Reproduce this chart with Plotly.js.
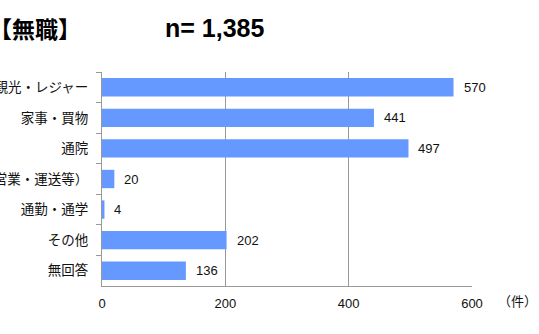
<!DOCTYPE html>
<html>
<head>
<meta charset="utf-8">
<script src="https://cdn.plot.ly/plotly-3.0.1.min.js"></script>
<style>html,body{margin:0;padding:0;background:#fff;}#chart{width:539px;height:334px;}</style>
</head>
<body>
<div id="chart"></div>
<script>
const categories = ["観光・レジャー", "家事・買物", "通院", "業務（営業・運送等）", "通勤・通学", "その他", "無回答"];
const counts = [570, 441, 497, 20, 4, 202, 136];
const xTicks = [0, 200, 400, 600];
const titleText = "【無職】";
const nText = "n= 1,385";
const unitText = "（件）";

const font = "'Noto Sans CJK JP', 'Noto Sans', sans-serif";
const numFont = "'Liberation Sans', Arial, 'Noto Sans CJK JP', sans-serif";

const trace = {
  type: "bar",
  orientation: "h",
  y: categories,
  x: counts,
  marker: {color: "#6699FF", line: {width: 0}},
  width: 0.6,
  hoverinfo: "none"
};

const annotations = categories.map((c, i) => ({
  x: counts[i], y: c, xref: "x", yref: "y",
  text: String(counts[i]), showarrow: false,
  xanchor: "left", xshift: 8,
  bgcolor: "#ffffff", borderpad: 1,
  font: {family: numFont, size: 13, color: "#111"}
}));

annotations.push({
  xref: "paper", yref: "paper", x: -0.31, y: 1.205,
  xanchor: "left", yanchor: "middle", showarrow: false,
  text: "<b>" + titleText + "</b>",
  font: {family: font, size: 23, color: "#000"}
});
annotations.push({
  xref: "paper", yref: "paper", x: 0.165, y: 1.205,
  xanchor: "left", yanchor: "middle", showarrow: false,
  text: "<b>" + nText + "</b>",
  font: {family: numFont, size: 25, color: "#000"}
});
annotations.push({
  xref: "paper", yref: "paper", x: 1.065, y: -0.07,
  xanchor: "left", yanchor: "middle", showarrow: false,
  text: unitText,
  font: {family: font, size: 13, color: "#111"}
});

const layout = {
  width: 539, height: 334,
  margin: {l: 102, r: 67, t: 72, b: 48, pad: 0},
  paper_bgcolor: "#fff", plot_bgcolor: "#fff",
  showlegend: false,
  font: {family: font, color: "#111"},
  xaxis: {
    range: [0, 600], tickvals: xTicks, ticktext: xTicks.map(String),
    showgrid: true, gridcolor: "#999", gridwidth: 1,
    zeroline: false, showline: true, linecolor: "#999", linewidth: 1,
    ticks: "inside", ticklen: 4, tickcolor: "#999",
    tickfont: {family: numFont, size: 13, color: "#111"},
    ticklabelstandoff: 5, fixedrange: true
  },
  yaxis: {
    type: "category", autorange: "reversed",
    showline: true, linecolor: "#999", linewidth: 1,
    ticks: "outside", ticklen: 5, tickcolor: "#999", tickson: "boundaries",
    showgrid: false, zeroline: false,
    tickfont: {family: font, size: 13.5, color: "#111"},
    ticklabelstandoff: 10, fixedrange: true
  },
  annotations: annotations
};

Plotly.newPlot("chart", [trace], layout, {displayModeBar: false, staticPlot: true});
</script>
</body>
</html>
